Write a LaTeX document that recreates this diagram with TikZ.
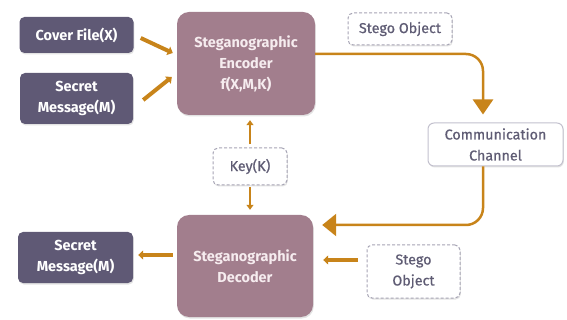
\documentclass[tikz,border=0pt]{standalone}
\usepackage{fontspec}
\setmainfont{Fira Sans}
\newfontfamily\semifont[FakeBold=0.6]{Fira Sans}
\usetikzlibrary{arrows.meta,shadows}
\definecolor{inbox}{HTML}{5F5975}
\definecolor{stegbox}{HTML}{A27E8D}
\definecolor{stegtext}{HTML}{F6ECEF}
\definecolor{flow}{HTML}{C8841A}
\definecolor{labeltext}{HTML}{5F5C74}
\definecolor{dashline}{HTML}{A6A4B4}
\definecolor{chanline}{HTML}{C3C1CE}
\tikzset{
  softshadow/.style={drop shadow={opacity=0.22,shadow xshift=0.8pt,shadow yshift=-1.5pt}},
  databox/.style={rectangle,rounded corners=5pt,fill=inbox,text=white,font=\bfseries\fontsize{14.5}{21}\selectfont,
    align=center,inner sep=0pt,softshadow},
  coderbox/.style={rectangle,rounded corners=12pt,fill=stegbox,text=stegtext,font=\bfseries\fontsize{14.5}{21}\selectfont,
    align=center,inner sep=0pt,softshadow},
  tagbox/.style={rectangle,rounded corners=5pt,draw=dashline,dash pattern=on 3pt off 2pt,line width=1pt,fill=white,text=labeltext,
    font=\semifont\fontsize{14.3}{21}\selectfont,align=center,inner sep=0pt,softshadow},
  chanbox/.style={rectangle,rounded corners=6pt,draw=chanline,line width=1pt,fill=white,text=labeltext,
    font=\semifont\fontsize{14.3}{21}\selectfont,align=center,inner sep=0pt,softshadow},
  fatarrow/.style={draw=flow,line width=4pt,-{Triangle[width=9pt,length=5pt]}},
  keyarrow/.style={draw=flow,line width=2.2pt,-{Triangle[width=7pt,length=5pt]}},
  route/.style={draw=flow,line width=2.5pt,rounded corners=17pt},
}
\begin{document}
\begin{tikzpicture}[x=1pt,y=-1pt]
\useasboundingbox (0,0) rectangle (567,320);

% senders and receivers
\node[databox,minimum width=114pt,minimum height=36pt] (cover) at (76.5,35) {Cover File(X)};
\node[databox,minimum width=113pt,minimum height=51pt] (msgin) at (76.5,98.5) {Secret\\Message(M)};
\node[coderbox,minimum width=138pt,minimum height=103pt] (enc) at (246,63.5) {Steganographic\\Encoder\\f(X,M,K)};
\node[tagbox,minimum width=104pt,minimum height=32pt] (objtop) at (400,29) {Stego Object};
\node[chanbox,minimum width=135pt,minimum height=43pt] (chan) at (495.5,144.5) {Communication\\Channel};
\node[tagbox,minimum width=74pt,minimum height=37pt] (key) at (250,166.5) {Key(K)};
\node[coderbox,minimum width=136pt,minimum height=102pt] (dec) at (245,266) {Steganographic\\Decoder};
\node[databox,minimum width=115pt,minimum height=51pt] (msgout) at (75.5,257.5) {Secret\\Message(M)};
\node[tagbox,minimum width=93pt,minimum height=53pt] (objbot) at (413.5,271.5) {Stego\\Object};

% inputs to the encoder
\draw[fatarrow] ([shift={(7,3)}]cover.east) -- ([shift={(-4,-10.5)}]enc.west);
\draw[fatarrow] ([shift={(10,1.5)}]msgin.east) -- ([shift={(-5,13.5)}]enc.west);

% key distribution
\draw[keyarrow,shorten <=3pt,shorten >=5pt] (key.north) -- (key.north |- enc.south);
\draw[keyarrow,shorten <=2pt,shorten >=5pt] (key.south) -- (key.south |- dec.north);

% stego object through the channel
\draw[route,-{Triangle[width=20pt,length=15pt]},shorten >=8pt] ([yshift=9.5pt]enc.east) -| ([xshift=-12.5pt]chan.north);
\draw[route,-{Triangle[width=22pt,length=14pt]},shorten >=9pt] ([xshift=-12.5pt]chan.south) |- ([yshift=41pt]dec.east);

% decoder input and output
\draw[fatarrow,shorten <=9pt,shorten >=10pt] ([yshift=11.5pt]objbot.west) -- ([yshift=11.5pt]objbot.west -| dec.east);
\draw[fatarrow,shorten <=4pt,shorten >=5pt] ([yshift=11pt]dec.west) -- ([yshift=11pt]dec.west -| msgout.east);
\end{tikzpicture}
\end{document}
